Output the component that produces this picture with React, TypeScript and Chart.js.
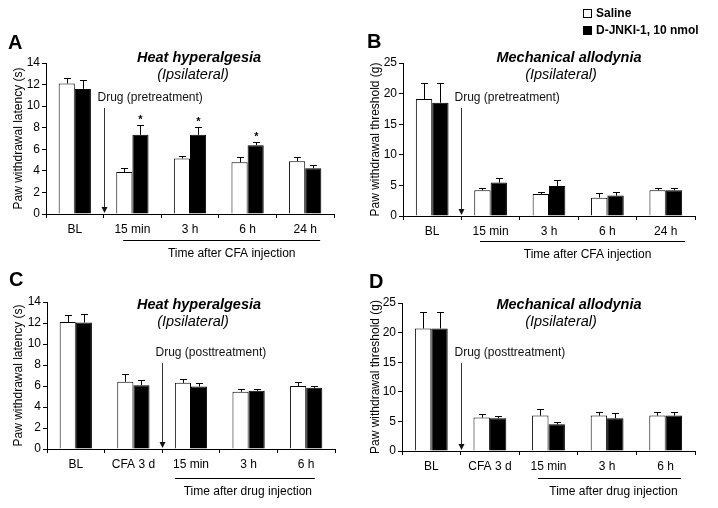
import React, { useEffect, useRef } from "react";
import { Chart, registerables } from "chart.js";
Chart.register(...registerables);

const FONT = "'Liberation Sans', Arial, sans-serif";
Chart.defaults.font.family = FONT;
Chart.defaults.color = "#000";

// ---------- data ----------
const categoriesPre = ["BL", "15 min", "3 h", "6 h", "24 h"];
const categoriesPost = ["BL", "CFA 3 d", "15 min", "3 h", "6 h"];

const heatPreSaline = [12.1, 3.9, 5.15, 4.8, 4.9];
const heatPreSalineErr = [0.5, 0.34, 0.27, 0.46, 0.36];
const heatPreDrug = [11.6, 7.34, 7.34, 6.38, 4.24];
const heatPreDrugErr = [0.8, 0.93, 0.71, 0.28, 0.31];
const heatPreStars = [false, true, true, true, false];

const mechPreSaline = [19.1, 4.2, 3.6, 3.0, 4.2];
const mechPreSalineErr = [2.7, 0.4, 0.4, 0.7, 0.4];
const mechPreDrug = [18.5, 5.46, 4.9, 3.33, 4.2];
const mechPreDrugErr = [3.2, 0.7, 1.0, 0.6, 0.4];

const heatPostSaline = [12.1, 6.4, 6.3, 5.45, 6.0];
const heatPostSalineErr = [0.7, 0.7, 0.4, 0.3, 0.4];
const heatPostDrug = [12.05, 6.08, 5.95, 5.54, 5.83];
const heatPostDrugErr = [0.8, 0.5, 0.35, 0.22, 0.16];

const mechPostSaline = [20.7, 5.64, 5.98, 5.98, 5.98];
const mechPostSalineErr = [2.7, 0.62, 1.07, 0.68, 0.68];
const mechPostDrug = [20.7, 5.53, 4.5, 5.53, 5.98];
const mechPostDrugErr = [2.7, 0.45, 0.47, 0.85, 0.68];

const legendLabels = ["Saline", "D-JNKI-1, 10 nmol"];

// ---------- annotation plugin ----------
const annot = {
  id: "annot",
  afterDatasetsDraw(chart: any, _args: any, o: any) {
    const { ctx, chartArea, scales } = chart;
    const x = scales.x;
    const y = scales.y;
    ctx.save();
    // error bars
    chart.data.datasets.forEach((ds: any, di: number) => {
      const meta = chart.getDatasetMeta(di);
      meta.data.forEach((bar: any, i: number) => {
        const v = ds.data[i];
        const top = Math.round(y.getPixelForValue(v + ds.errors[i])) + 0.5;
        const bx = Math.round(bar.x) + 0.5;
        ctx.strokeStyle = "#000";
        ctx.lineWidth = 1;
        ctx.beginPath();
        ctx.moveTo(bx, bar.y);
        ctx.lineTo(bx, top);
        ctx.moveTo(bx - 3.5, top);
        ctx.lineTo(bx + 3.5, top);
        ctx.stroke();
        if (ds.stars && ds.stars[i]) {
          ctx.fillStyle = "#000";
          ctx.font = `bold 11px ${FONT}`;
          ctx.textAlign = "center";
          ctx.textBaseline = "middle";
          ctx.fillText("*", bx, top - 6);
        }
      });
    });
    const catW = x.getPixelForValue(1) - x.getPixelForValue(0);
    const catX = (c: number) => x.getPixelForValue(0) - catW / 2 + c * catW;
    // titles
    ctx.fillStyle = "#000";
    ctx.textAlign = "center";
    ctx.textBaseline = "middle";
    ctx.font = `italic bold 14.5px ${FONT}`;
    ctx.fillText(o.title, o.titleX, o.titleY);
    ctx.font = `italic 14.5px ${FONT}`;
    ctx.fillText("(Ipsilateral)", o.subX, o.titleY + 17);
    // drug arrow
    const ax = Math.round(catX(o.arrowCat)) + 0.5;
    ctx.font = `12px ${FONT}`;
    ctx.textAlign = "left";
    ctx.fillStyle = "#111";
    ctx.fillText(o.drug, ax - 7, o.drugY);
    ctx.strokeStyle = "#333";
    ctx.beginPath();
    ctx.moveTo(ax, o.drugY + 10);
    ctx.lineTo(ax, chartArea.bottom - 5);
    ctx.stroke();
    ctx.fillStyle = "#111";
    ctx.beginPath();
    ctx.moveTo(ax - 3, chartArea.bottom - 7);
    ctx.lineTo(ax + 3, chartArea.bottom - 7);
    ctx.lineTo(ax, chartArea.bottom - 1);
    ctx.closePath();
    ctx.fill();
    // underline + x title
    const ul = catX(o.lineFrom);
    const ur = catX(o.lineTo);
    const uy = Math.round(chartArea.bottom + o.lineDy) + 0.5;
    ctx.strokeStyle = "#000";
    ctx.beginPath();
    ctx.moveTo(ul, uy);
    ctx.lineTo(ur, uy);
    ctx.stroke();
    ctx.fillStyle = "#000";
    ctx.textAlign = "center";
    ctx.font = `12px ${FONT}`;
    ctx.fillText(o.xTitle, (ul + ur) / 2 + o.xTitleShift, uy + 13);
    // panel letter
    ctx.textAlign = "left";
    ctx.font = `bold 20px ${FONT}`;
    ctx.fillText(o.letter, o.letterX, o.letterY);
    // legend
    if (o.legend) {
      const lx = o.legend[0];
      const ly = o.legend[1];
      ctx.font = `bold 12px ${FONT}`;
      ctx.lineWidth = 1;
      ctx.strokeStyle = "#000";
      ctx.strokeRect(lx + 0.5, ly - 4.5, 8, 8);
      ctx.fillStyle = "#000";
      ctx.fillText(legendLabels[0], lx + 13, ly);
      ctx.fillRect(lx, ly + 12, 9, 9);
      ctx.fillText(legendLabels[1], lx + 13, ly + 17);
    }
    ctx.restore();
  },
};

type Cfg = {
  labels: string[];
  saline: number[];
  salineErr: number[];
  drug: number[];
  drugErr: number[];
  stars?: boolean[];
  max: number;
  step: number;
  yTitle: string;
  padTop: number;
  padRight: number;
  yw: number;
  xh: number;
  yTitlePad: number;
  opts: any;
};

function Panel({ cfg, left, top, h }: { cfg: Cfg; left: number; top: number; h: number }) {
  const ref = useRef<HTMLCanvasElement>(null);
  useEffect(() => {
    const chart = new Chart(ref.current!, {
      type: "bar",
      data: {
        labels: cfg.labels,
        datasets: [
          {
            label: legendLabels[0],
            data: cfg.saline,
            errors: cfg.salineErr,
            backgroundColor: "#fff",
            borderColor: "#000",
            borderWidth: 1,
            barPercentage: 1,
            categoryPercentage: 0.56,
          } as any,
          {
            label: legendLabels[1],
            data: cfg.drug,
            errors: cfg.drugErr,
            stars: cfg.stars,
            backgroundColor: "#000",
            borderColor: "#000",
            borderWidth: 1,
            barPercentage: 1,
            categoryPercentage: 0.56,
          } as any,
        ],
      },
      options: {
        responsive: false,
        animation: false,
        devicePixelRatio: 1,
        layout: { padding: { top: cfg.padTop, right: cfg.padRight, left: 0, bottom: 0 } },
        plugins: {
          legend: { display: false },
          tooltip: { enabled: false },
          annot: cfg.opts,
        } as any,
        scales: {
          x: {
            offset: true,
            grid: { display: true, drawOnChartArea: false, tickLength: 4, color: "#000", offset: true },
            border: { color: "#000", width: 1 },
            ticks: { color: "#000", font: { size: 12 }, padding: 4, maxRotation: 0, autoSkip: false },
            afterFit(s: any) {
              s.height = cfg.xh;
            },
          },
          y: {
            min: 0,
            max: cfg.max,
            ticks: { stepSize: cfg.step, color: "#000", font: { size: 12 }, padding: 2 },
            grid: { drawOnChartArea: false, tickLength: 4, color: "#000" },
            border: { color: "#000", width: 1 },
            title: {
              display: true,
              text: cfg.yTitle,
              color: "#000",
              font: { size: 12 },
              padding: { top: cfg.yTitlePad, bottom: 0 },
            },
            afterFit(s: any) {
              s.width = cfg.yw;
            },
          },
        },
      } as any,
      plugins: [annot as any],
    });
    return () => chart.destroy();
  }, []);
  return (
    <canvas
      ref={ref}
      width={359}
      height={h}
      style={{ position: "absolute", left, top, width: 359, height: h }}
    />
  );
}

const panelA: Cfg = {
  labels: categoriesPre,
  saline: heatPreSaline,
  salineErr: heatPreSalineErr,
  drug: heatPreDrug,
  drugErr: heatPreDrugErr,
  stars: heatPreStars,
  max: 14,
  step: 2,
  yTitle: "Paw withdrawal latency (s)",
  padTop: 63,
  padRight: 25,
  yw: 46,
  xh: 56,
  yTitlePad: 11,
  opts: {
    title: "Heat hyperalgesia",
    titleX: 199,
    subX: 193,
    titleY: 58,
    drug: "Drug (pretreatment)",
    drugY: 98,
    arrowCat: 1,
    lineFrom: 1.34,
    lineTo: 4.76,
    lineDy: 26,
    xTitleShift: 10,
    xTitle: "Time after CFA injection",
    letter: "A",
    letterX: 8,
    letterY: 43,
  },
};

const panelB: Cfg = {
  labels: categoriesPre,
  saline: mechPreSaline,
  salineErr: mechPreSalineErr,
  drug: mechPreDrug,
  drugErr: mechPreDrugErr,
  max: 25,
  step: 5,
  yTitle: "Paw withdrawal threshold (g)",
  padTop: 63,
  padRight: 23,
  yw: 44,
  xh: 54,
  yTitlePad: 9,
  opts: {
    title: "Mechanical allodynia",
    titleX: 210,
    subX: 202,
    titleY: 58,
    drug: "Drug (pretreatment)",
    drugY: 98,
    arrowCat: 1,
    lineFrom: 1.32,
    lineTo: 4.83,
    lineDy: 25,
    xTitleShift: 5,
    xTitle: "Time after CFA injection",
    letter: "B",
    letterX: 8,
    letterY: 42,
    legend: [224, 14],
  },
};

const panelC: Cfg = {
  labels: categoriesPost,
  saline: heatPostSaline,
  salineErr: heatPostSalineErr,
  drug: heatPostDrug,
  drugErr: heatPostDrugErr,
  max: 14,
  step: 2,
  yTitle: "Paw withdrawal latency (s)",
  padTop: 48,
  padRight: 24,
  yw: 47,
  xh: 59,
  yTitlePad: 11,
  opts: {
    title: "Heat hyperalgesia",
    titleX: 199,
    subX: 193,
    titleY: 51,
    drug: "Drug (posttreatment)",
    drugY: 99,
    arrowCat: 2,
    lineFrom: 2.22,
    lineTo: 4.65,
    lineDy: 29,
    xTitleShift: 3,
    xTitle: "Time after drug injection",
    letter: "C",
    letterX: 9,
    letterY: 26,
  },
};

const panelD: Cfg = {
  labels: categoriesPost,
  saline: mechPostSaline,
  salineErr: mechPostSalineErr,
  drug: mechPostDrug,
  drugErr: mechPostDrugErr,
  max: 25,
  step: 5,
  yTitle: "Paw withdrawal threshold (g)",
  padTop: 49,
  padRight: 23,
  yw: 43,
  xh: 57,
  yTitlePad: 9,
  opts: {
    title: "Mechanical allodynia",
    titleX: 210,
    subX: 202,
    titleY: 51,
    drug: "Drug (posttreatment)",
    drugY: 99,
    arrowCat: 1,
    lineFrom: 2.32,
    lineTo: 4.76,
    lineDy: 27,
    xTitleShift: 4,
    xTitle: "Time after drug injection",
    letter: "D",
    letterX: 10,
    letterY: 28,
  },
};

export default function App() {
  return (
    <div style={{ position: "fixed", left: 0, top: 0, width: 718, height: 508, background: "#fff" }}>
      <Panel cfg={panelA} left={0} top={0} h={270} />
      <Panel cfg={panelB} left={359} top={0} h={270} />
      <Panel cfg={panelC} left={0} top={254} h={254} />
      <Panel cfg={panelD} left={359} top={254} h={254} />
    </div>
  );
}
